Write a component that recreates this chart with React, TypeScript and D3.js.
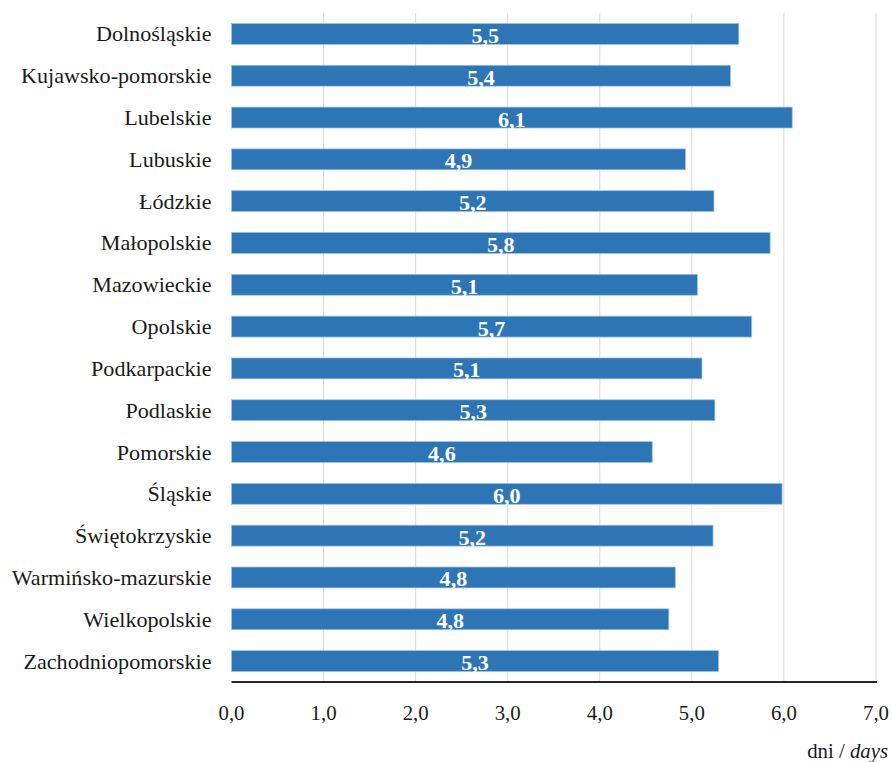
import { scaleBand, scaleLinear, range } from 'd3'

const regions = [
  'Dolnośląskie',
  'Kujawsko-pomorskie',
  'Lubelskie',
  'Lubuskie',
  'Łódzkie',
  'Małopolskie',
  'Mazowieckie',
  'Opolskie',
  'Podkarpackie',
  'Podlaskie',
  'Pomorskie',
  'Śląskie',
  'Świętokrzyskie',
  'Warmińsko-mazurskie',
  'Wielkopolskie',
  'Zachodniopomorskie',
]

// average length of stay, days
const days = [5.51, 5.42, 6.09, 4.93, 5.24, 5.85, 5.06, 5.65, 5.11, 5.25, 4.57, 5.98, 5.23, 4.82, 4.75, 5.29]

const valueLabels = ['5,5', '5,4', '6,1', '4,9', '5,2', '5,8', '5,1', '5,7', '5,1', '5,3', '4,6', '6,0', '5,2', '4,8', '4,8', '5,3']

const xTicks = [0, 1, 2, 3, 4, 5, 6, 7]

const width = 892
const height = 762
const margin = { top: 13, left: 231.5 }
const innerHeight = 682 - margin.top

const serif = "'Liberation Serif', 'DejaVu Serif', serif"
const txt = { fontFamily: serif }
// the source chart's text is slightly stretched sideways
const stretch = (x: number, y: number, k = 1.08) => `translate(${x}, ${y}) scale(${k}, 1)`

const App = () => {
  const y = scaleBand<string>().domain(regions).range([0, innerHeight]).paddingInner(0.5).paddingOuter(0.25)
  const x = scaleLinear().domain([0, 7]).range([0, 644.5])

  return (
    <svg width={width} height={height} style={{ position: 'absolute', left: 0, top: 0 }}>
      <rect width={width} height={height} fill="#fff" />
      <g transform={`translate(${margin.left}, ${margin.top})`}>
        {xTicks.slice(1).map((t) => (
          <line key={t} x1={x(t)} x2={x(t)} y1={0} y2={innerHeight} stroke="#d9d9d9" strokeWidth={1} />
        ))}

        {range(regions.length).map((i) => {
          const by = y(regions[i]) ?? 0
          const cy = by + y.bandwidth() / 2
          const bw = x(days[i])
          return (
            <g key={regions[i]}>
              <rect x={0} y={by} width={bw} height={y.bandwidth()} fill="#2e75b6" stroke="#9dc3e6" strokeWidth={0.75} />
              <text
                transform={stretch(bw / 2, cy + 9, 1.05)}
                textAnchor="middle"
                fill="#fff"
                fontWeight="bold"
                fontSize={21}
                style={txt}
              >
                {valueLabels[i]}
              </text>
              <text transform={stretch(-20, cy + 7.5)} textAnchor="end" fill="#1a1a1a" fontSize={20.5} style={txt}>
                {regions[i]}
              </text>
            </g>
          )
        })}

        <line x1={0} x2={x(7) + 1} y1={innerHeight} y2={innerHeight} stroke="#262626" strokeWidth={2.2} />

        {xTicks.map((t) => (
          <text
            key={t}
            transform={stretch(x(t), innerHeight + 38, 1.04)}
            textAnchor="middle"
            fill="#1a1a1a"
            fontSize={20}
            style={txt}
          >
            {t.toFixed(1).replace('.', ',')}
          </text>
        ))}
      </g>
      <text transform={stretch(888, 757.5, 1.04)} textAnchor="end" fill="#1a1a1a" fontSize={20} style={txt}>
        dni / <tspan fontStyle="italic">days</tspan>
      </text>
    </svg>
  )
}

export default App
